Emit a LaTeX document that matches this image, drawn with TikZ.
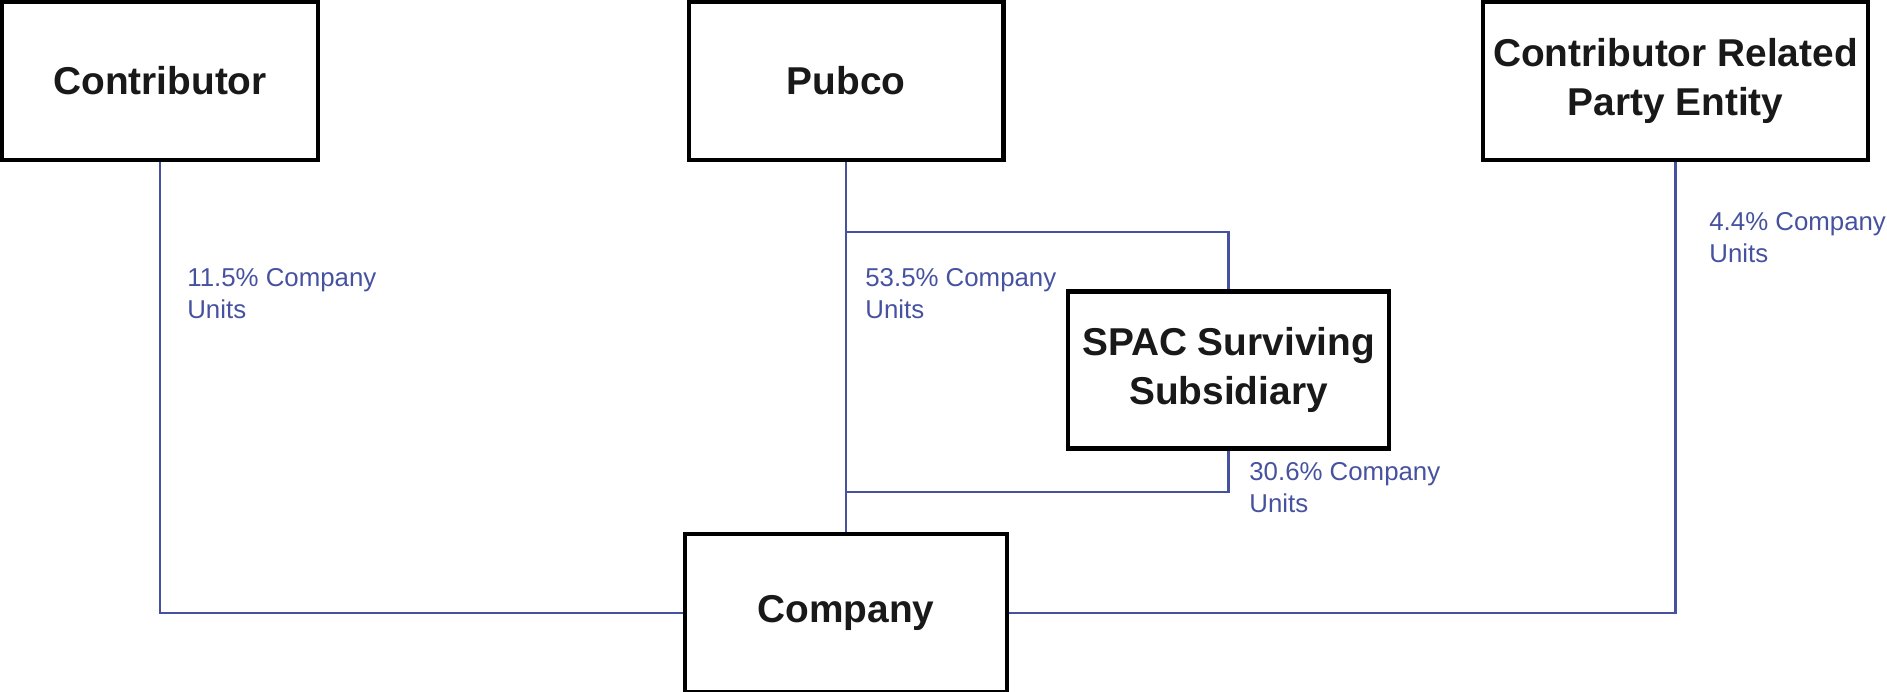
\documentclass[tikz,border=0pt]{standalone}
\usepackage{fontspec}
\setmainfont{Liberation Sans}
\definecolor{unitblue}{RGB}{70,82,160}
\begin{document}
\begin{tikzpicture}[x=0.02cm,y=-0.02cm,
		entity/.style={draw=black,line width=2.3pt,inner sep=0pt,align=center,
			font=\fontsize{22.1}{27.8}\selectfont\bfseries,text=black!90},
		holding/.style={draw=unitblue,line width=1.3pt},
		units/.style={anchor=north west,inner sep=0pt,align=left,text=unitblue,
			font=\fontsize{14.7}{18.2}\selectfont}]
		\useasboundingbox (0,0) rectangle (1887,692);
		\node[entity,minimum width=6.32cm,minimum height=3.16cm] (contributor) at (160,81) {Contributor};
		\node[entity,minimum width=6.30cm,minimum height=3.16cm] (pubco) at (846,81) {Pubco};
		\node[entity,minimum width=7.70cm,minimum height=3.16cm] (related) at (1675.5,81) {Contributor Related\\Party Entity};
		\node[entity,minimum width=6.42cm,minimum height=3.14cm] (spac) at (1228.5,370) {SPAC Surviving\\Subsidiary};
		\node[entity,minimum width=6.44cm,minimum height=3.16cm] (company) at (846,613) {Company};
		\coordinate (upper) at (846,232);
		\coordinate (lower) at (846,492);
		\draw[holding] (contributor.south) |- (company.west);
		\draw[holding] (pubco.south) -- (company.north);
		\draw[holding] (upper) -| (spac.north);
		\draw[holding] (spac.south) |- (lower);
		\draw[holding] (related.south) |- (company.east);
		\node[units] (lcontrib) at (187,268) {11.5\% Company\\Units};
		\node[units] (lpubco) at (865,268) {53.5\% Company\\Units};
		\node[units] (lspac) at (1249,462) {30.6\% Company\\Units};
		\node[units] (lrelated) at (1709,212) {4.4\% Company\\Units};
	\end{tikzpicture}
\end{document}
